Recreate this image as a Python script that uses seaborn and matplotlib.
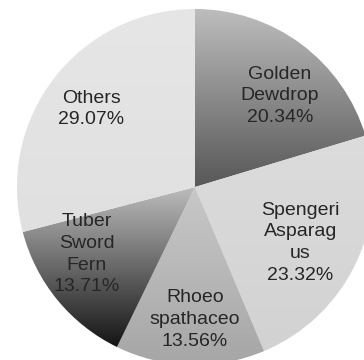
import numpy as np
import matplotlib
matplotlib.use('Agg')
import matplotlib.pyplot as plt
import seaborn as sns
from matplotlib.colors import LinearSegmentedColormap


# =============================================================================
# Data
# =============================================================================
names  = ['Golden\nDewdrop', 'Spengeri\nAsparag\nus', 'Rhoeo\nspathaceo',
          'Tuber\nSword\nFern', 'Others']
shares = [20.34, 23.32, 13.56, 13.71, 29.07]

# gradient (top -> bottom) per wedge
top_colors    = ['#bdbdbd', '#dcdcdc', '#c8c8c8', '#bcbcbc', '#e6e6e6']
bottom_colors = ['#575757', '#d2d2d2', '#a6a6a6', '#141414', '#e0e0e0']

# label placement (fraction of radius, angle tweak in degrees)
label_dist  = [0.70, 0.67, 0.745, 0.715, 0.73]
label_shift = [-6.4, -2.7, 1.6, -7.4, 0.8]


# =============================================================================
# Plot
# =============================================================================
sns.set_theme(style='white')
plt.rcParams['font.family'] = ['Liberation Sans', 'DejaVu Sans']

fig = plt.figure(figsize=(3.64, 3.60), dpi=100)
ax = fig.add_axes([0, 0, 1, 1])

wedges, _ = ax.pie(shares, startangle=90, counterclock=False, radius=1,
                   colors=top_colors,
                   wedgeprops=dict(edgecolor='white', linewidth=0.8))

grad = np.linspace(0, 1, 256).reshape(-1, 1)
for w, c0, c1 in zip(wedges, top_colors, bottom_colors):
    bb = w.get_path().get_extents(w.get_patch_transform())
    cmap = LinearSegmentedColormap.from_list('g', [c0, c1])
    im = ax.imshow(grad, cmap=cmap, aspect='auto', origin='upper',
                   extent=[bb.x0, bb.x1, bb.y0, bb.y1], zorder=w.get_zorder())
    im.set_clip_path(w)

for w, name, v, d, s in zip(wedges, names, shares, label_dist, label_shift):
    ang = np.deg2rad((w.theta1 + w.theta2) / 2 + s)
    ax.text(d * np.cos(ang), d * np.sin(ang), f'{name}\n{v:.2f}%',
            ha='center', va='center', fontsize=14, color='#262626',
            linespacing=1.36, zorder=5)

r_px = 178.0
cx, cy = 195.0, 187.0
ax.set_xlim(-cx / r_px, (364 - cx) / r_px)
ax.set_ylim(-(360 - cy) / r_px, cy / r_px)
ax.set_aspect('auto')
ax.axis('off')

fig.savefig('out.png', dpi=100, facecolor='white')
plt.close(fig)
